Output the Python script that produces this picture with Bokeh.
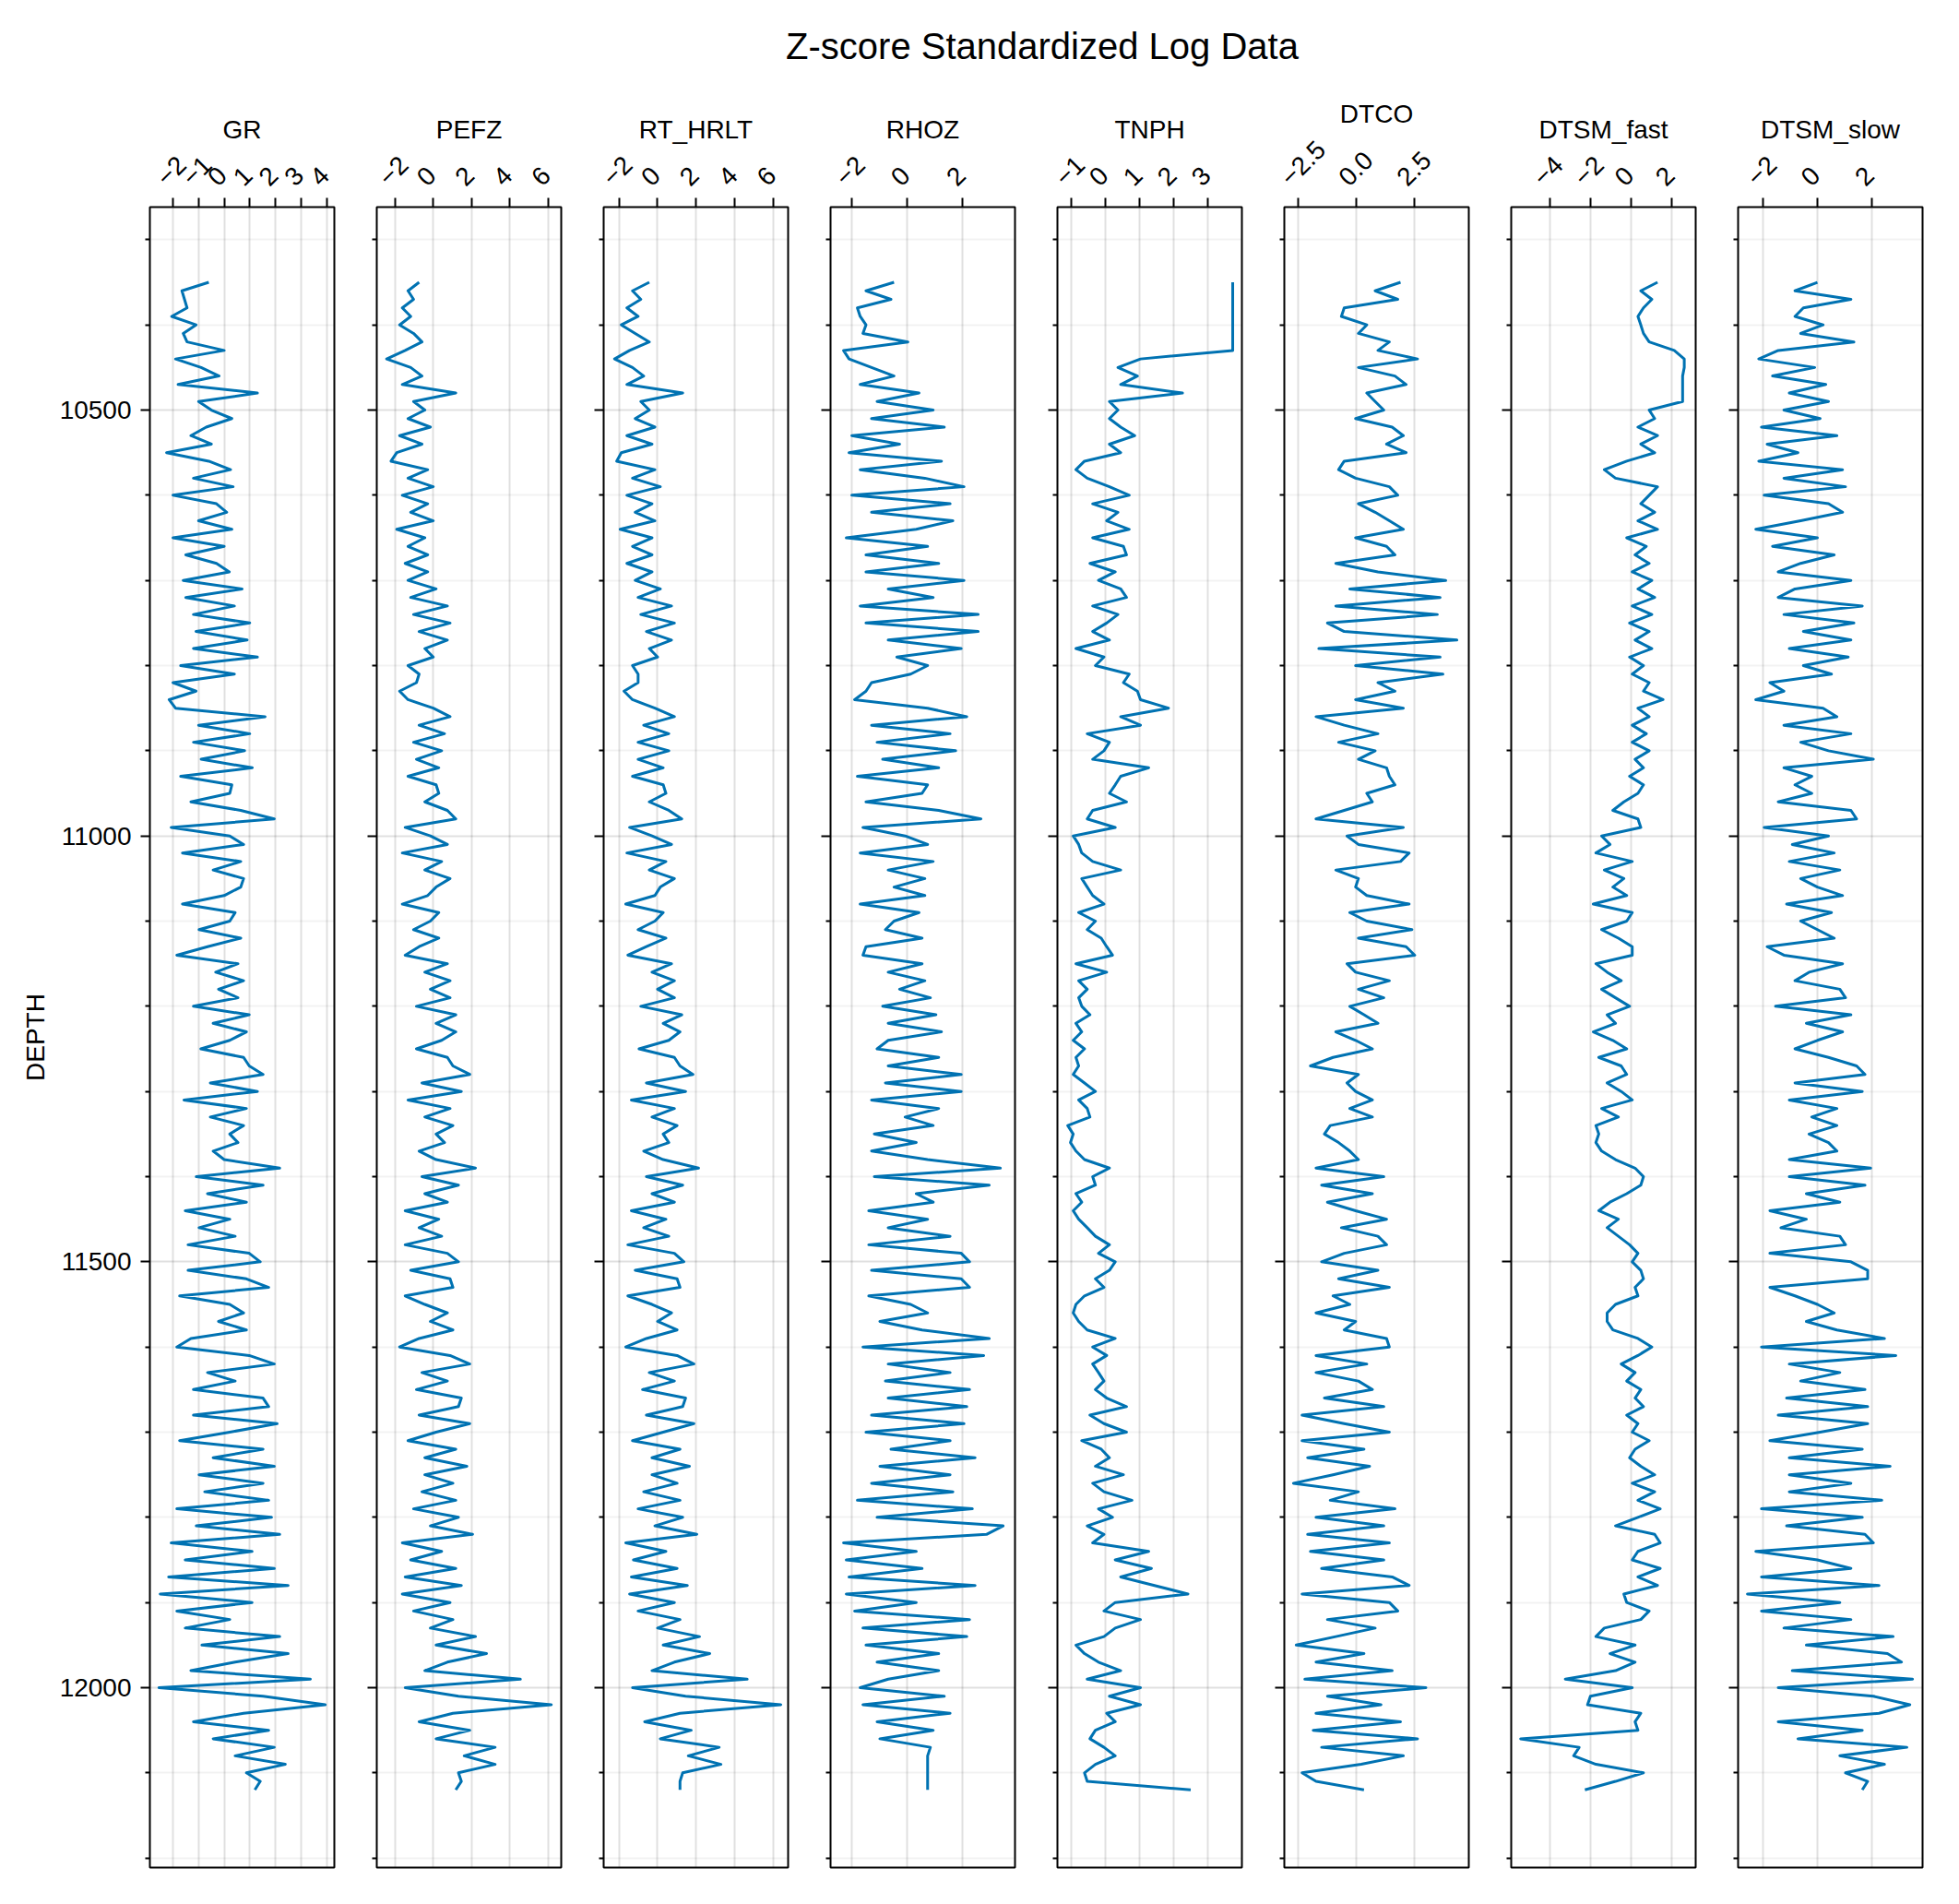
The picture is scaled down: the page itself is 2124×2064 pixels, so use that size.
from math import pi

from bokeh.plotting import figure
from bokeh.layouts import column, row
from bokeh.models import Range1d, FixedTicker, LinearAxis, Label, CustomLabelingPolicy
from bokeh.embed import file_html
from bokeh.resources import INLINE

FONT = "Liberation Sans"
LINE_COLOR = "#0072B2"

# ---------------- data (z-scores, every 10 ft) ----------------
DEPTH = list(range(10350, 12121, 10))

GR = [
    -0.6, -1.65, -1.55, -1.45, -2.05, -1.1, -1.6, -1.45, 0.0, -1.9,
    -0.9, -0.2, -1.8, 1.3, -1.0, -0.5, 0.3, -0.7, -1.3, -0.5,
    -2.25, -0.6, 0.25, -1.2, 0.35, -2.0, -0.3, 0.1, -1.0, 0.3,
    -2.0, 0.0, -1.5, -0.3, 0.2, -1.6, 0.7, -1.5, 0.4, -1.2,
    1.0, -1.1, 0.9, -1.2, 1.3, -1.7, 0.4, -2.0, -1.1, -2.15,
    -1.9, 1.6, -1.0, 1.0, -1.2, 0.8, -0.9, 1.1, -1.7, 0.3,
    0.22, -1.3, 0.65, 1.96, -2.07, 0.22, 0.76, -1.63, 0.65, -0.43,
    0.76, 0.65, 0.0, -1.63, 0.43, 0.22, -0.98, 0.65, -0.65, -1.85,
    0.54, -0.33, 0.76, -0.22, 0.54, -1.2, 0.98, -0.43, 0.87, 0.22,
    -0.91, 0.76, 0.98, 1.52, -0.54, 1.3, -1.57, 0.87, -0.54, 0.76,
    0.22, 0.54, -0.43, 0.0, 2.17, -1.09, 1.52, -0.65, 0.87, -1.52,
    0.22, -0.98, 0.43, -1.41, 0.98, 1.41, -1.41, 0.87, 1.74, -1.74,
    0.22, 0.76, -0.22, 0.87, -1.3, -1.85, 0.98, 1.96, -0.65, 0.43,
    -1.2, 1.52, 1.74, -1.2, 2.07, 0.22, -1.74, 1.52, -0.43, 1.96,
    -0.98, 1.52, -0.76, 1.74, -1.85, 1.85, -1.09, 2.17, -2.07, 1.09,
    -1.52, 1.96, -2.17, 2.5, -2.5, 1.09, -1.85, 0.22, -1.52, 2.17,
    -0.87, 2.5, 0.43, -1.3, 3.37, -2.55, 1.52, 3.95, 0.76, -1.2,
    1.74, -0.43, 1.96, 0.43, 2.39, 0.87, 1.41, 1.2,
]

PEFZ = [
    -0.74, -1.32, -1.03, -1.62, -1.18, -1.76, -1.03, -0.59, -1.47, -2.44,
    -1.18, -0.59, -1.62, 1.18, -1.03, -0.44, -1.32, -0.15, -1.76, -0.59,
    -1.91, -2.21, -0.29, -1.32, 0.0, -1.62, -0.29, -1.18, 0.0, -1.91,
    -0.44, -1.32, -0.29, -1.47, -0.29, -1.32, 0.15, -1.18, 0.74, -1.03,
    0.88, -0.74, 0.74, -0.44, 0.0, -1.32, -0.74, -0.88, -1.76, -1.32,
    0.0, 0.88, -0.74, 0.59, -1.03, 0.44, -0.88, 0.29, -1.32, 0.15,
    0.29, -0.44, 0.74, 1.18, -1.47, -0.15, 0.74, -1.62, 0.44, -0.44,
    0.88, 0.15, -0.29, -1.62, 0.29, -0.15, -1.03, 0.29, -0.74, -1.47,
    0.74, -0.44, 0.88, -0.15, 0.88, -0.88, 1.18, 0.15, 1.18, 0.44,
    -0.88, 0.74, 1.03, 1.91, -0.59, 1.47, -1.32, 0.88, -0.44, 1.03,
    0.15, 0.59, -0.74, 0.15, 2.21, -0.59, 1.32, -0.44, 0.74, -1.47,
    0.29, -0.74, 0.44, -1.47, 0.74, 1.32, -1.18, 0.88, 1.03, -1.47,
    -0.44, 0.74, -0.15, 1.03, -0.74, -1.76, 0.88, 1.91, -0.59, 0.74,
    -0.88, 1.47, 1.32, -0.74, 1.91, 0.15, -1.32, 1.18, -0.44, 1.76,
    -0.44, 1.03, -0.59, 1.18, -1.03, 1.32, -0.15, 2.06, -1.62, 0.44,
    -1.18, 1.18, -1.47, 1.47, -1.62, 0.88, -1.03, 1.03, -0.15, 2.21,
    0.15, 2.79, 0.74, -0.44, 4.56, -1.47, 1.32, 6.18, 1.03, -0.74,
    1.91, 0.15, 3.24, 1.62, 3.24, 1.32, 1.47, 1.18,
]

RT_HRLT = [
    -0.43, -1.3, -0.87, -1.59, -1.01, -1.88, -1.16, -0.43, -1.45, -2.23,
    -1.3, -0.72, -1.59, 1.3, -0.87, -0.43, -1.16, -0.14, -1.59, -0.29,
    -1.88, -2.12, -0.14, -1.3, 0.14, -1.59, -0.29, -1.16, -0.14, -1.94,
    -0.29, -1.3, -0.29, -1.59, -0.29, -1.16, 0.14, -1.01, 0.72, -0.87,
    0.87, -0.58, 0.72, -0.43, 0.0, -1.3, -1.01, -1.01, -1.74, -1.3,
    -0.14, 0.87, -0.72, 0.58, -1.01, 0.58, -1.01, 0.29, -1.3, 0.29,
    0.43, -0.43, 0.58, 1.25, -1.45, -0.29, 0.72, -1.59, 0.43, -0.43,
    0.87, 0.14, -0.14, -1.65, 0.29, -0.14, -1.01, 0.43, -0.58, -1.54,
    0.72, -0.29, 0.87, 0.0, 0.87, -0.87, 1.25, 0.29, 1.16, 0.58,
    -0.96, 0.87, 1.16, 1.83, -0.58, 1.45, -1.36, 0.87, -0.29, 1.01,
    0.29, 0.58, -0.72, 0.29, 2.12, -0.58, 1.3, -0.29, 0.87, -1.36,
    0.43, -0.72, 0.58, -1.54, 0.87, 1.36, -1.16, 1.01, 1.16, -1.54,
    -0.29, 0.72, 0.0, 1.01, -0.58, -1.65, 1.01, 1.88, -0.43, 0.87,
    -0.78, 1.45, 1.3, -0.58, 1.88, 0.29, -1.3, 1.16, -0.29, 1.65,
    -0.29, 1.01, -0.72, 1.16, -1.01, 1.3, -0.14, 2.03, -1.65, 0.43,
    -1.25, 1.01, -1.36, 1.54, -1.45, 0.87, -1.01, 1.16, 0.0, 2.17,
    0.29, 2.7, 0.87, -0.29, 4.64, -1.3, 1.45, 6.38, 1.16, -0.67,
    1.74, 0.14, 3.19, 1.59, 3.28, 1.3, 1.16, 1.16,
]

RHOZ = [
    -0.48, -1.49, -0.59, -1.8, -1.7, -1.49, -1.6, 0.02, -2.3, -2.1,
    -1.29, -0.48, -1.7, 0.42, -1.09, 0.93, -1.29, 1.33, -2.0, -0.28,
    -2.1, 1.23, -1.7, 0.63, 2.04, -2.0, 1.54, -1.29, 1.64, 0.32,
    -2.2, 0.73, -1.49, 1.13, -1.49, 2.04, -0.69, 0.93, -1.7, 2.55,
    -1.49, 2.55, -0.69, 1.94, -0.38, 0.73, 0.12, -1.29, -1.49, -1.9,
    0.73, 2.14, -1.29, 1.54, -1.09, 1.74, -0.89, 1.13, -1.8, 0.73,
    0.53, -1.49, 1.13, 2.65, -1.6, -0.08, 0.73, -1.7, 0.93, -0.69,
    0.63, -0.48, 0.63, -1.7, 0.42, -0.48, -0.79, 0.53, -1.49, -1.6,
    0.53, -0.69, 0.63, -0.28, 0.83, -0.89, 1.03, -0.69, 1.23, -0.69,
    -1.09, 1.13, -0.69, 1.94, -0.79, 1.94, -1.29, 1.13, -0.08, 0.93,
    -1.19, 0.32, -1.29, 0.73, 3.35, -1.19, 2.95, 0.32, 0.93, -1.39,
    0.73, -0.69, 1.54, -1.39, 1.94, 2.24, -1.29, 1.94, 2.24, -1.39,
    0.12, 0.73, -0.99, 0.53, 2.95, -1.6, 2.75, -0.69, 1.54, -0.79,
    2.24, -0.69, 2.14, -1.29, 2.04, -1.49, 1.54, -0.59, 2.44, -0.99,
    1.54, -1.29, 1.64, -1.8, 2.34, -1.09, 3.45, 2.85, -2.3, 0.32,
    -2.2, 0.53, -2.1, 2.44, -2.2, 0.32, -1.9, 2.24, -1.6, 2.14,
    -1.49, 1.13, -1.09, 1.13, -0.69, -1.7, 1.33, -1.6, 1.54, -1.09,
    0.93, -0.99, 0.83, 0.73, 0.73, 0.73, 0.73, 0.73,
]

TNPH = [
    3.72, 3.72, 3.72, 3.72, 3.72, 3.72, 3.72, 3.72, 3.72, 1.02,
    0.36, 0.93, 0.44, 2.25, 0.11, 0.36, 0.11, 0.44, 0.85, 0.11,
    0.44, -0.62, -0.87, -0.54, 0.11, 0.69, -0.38, 0.36, 0.03, 0.69,
    -0.38, 0.52, 0.61, -0.46, 0.28, -0.21, 0.44, 0.61, -0.38, 0.36,
    0.03, -0.38, 0.11, -0.87, -0.05, -0.3, 0.69, 0.52, 0.93, 1.02,
    1.84, 0.44, 1.02, -0.54, 0.11, -0.05, -0.38, 1.26, 0.44, 0.28,
    0.11, 0.61, -0.38, -0.54, 0.28, -0.95, -0.79, -0.7, -0.38, 0.44,
    -0.7, -0.54, -0.38, -0.05, -0.79, -0.3, -0.54, -0.13, 0.03, 0.2,
    -0.87, 0.03, -0.79, -0.54, -0.79, -0.7, -0.46, -0.87, -0.7, -0.95,
    -0.62, -0.87, -0.79, -0.95, -0.62, -0.3, -0.79, -0.54, -0.46, -1.11,
    -0.95, -1.03, -0.87, -0.62, 0.11, -0.38, -0.3, -0.87, -0.7, -0.95,
    -0.79, -0.54, -0.3, 0.11, -0.21, 0.28, 0.11, -0.3, -0.05, -0.62,
    -0.87, -0.95, -0.79, -0.54, 0.28, -0.38, 0.03, -0.38, -0.21, -0.05,
    -0.3, 0.03, 0.61, -0.46, -0.05, 0.61, -0.7, -0.13, 0.11, -0.3,
    0.52, -0.38, -0.05, 0.77, -0.21, 0.2, -0.54, -0.05, -0.38, 1.26,
    0.28, 1.34, 0.44, 1.43, 2.41, 0.28, -0.05, 1.02, 0.28, -0.05,
    -0.87, -0.62, -0.21, 0.44, -0.54, 1.02, 0.11, 1.02, 0.03, 0.28,
    -0.3, -0.46, -0.05, 0.28, -0.3, -0.62, -0.54, 2.49,
]

DTCO = [
    1.91, 0.82, 1.79, -0.51, -0.63, 0.46, 0.1, 1.43, 0.94, 2.64,
    0.1, 1.67, 2.15, 0.46, 0.82, 1.19, -0.02, 1.55, 2.03, 1.31,
    2.15, -0.51, -0.75, -0.02, 1.43, 1.79, 0.1, 0.82, 1.43, 2.03,
    -0.02, 1.31, 1.67, -0.87, 0.94, 3.85, -0.27, 3.61, -0.87, 3.49,
    -1.23, -0.51, 4.33, -1.6, 3.61, -0.02, 3.73, 0.94, 1.67, -0.02,
    2.03, -1.72, -0.51, 0.94, -0.75, 0.82, 0.1, 1.31, 1.43, 1.67,
    0.46, 0.7, -0.51, -1.72, 2.03, -0.39, 0.1, 2.28, 1.91, -0.87,
    0.1, -0.02, 0.46, 2.28, -0.27, 0.46, 2.4, 0.1, 2.15, 2.52,
    -0.39, -0.02, 1.43, 0.1, 1.19, -0.27, 0.34, 0.94, -0.87, -0.02,
    0.7, -0.99, -1.96, 0.1, -0.39, -0.02, 0.7, -0.27, 0.7, -1.11,
    -1.36, -0.75, -0.27, 0.1, -1.72, 1.19, -1.48, 0.7, -1.23, -0.02,
    1.31, -0.63, 0.94, 1.31, -0.51, -1.48, 0.94, -0.75, 1.43, -0.99,
    -0.27, -1.72, -0.02, -0.51, 1.31, 1.43, -1.72, 0.46, -1.72, 0.1,
    0.7, -1.36, 1.19, -2.32, -0.51, 1.43, -2.32, 0.34, -2.08, 0.58,
    -0.99, -2.69, 0.1, -1.11, 1.67, -1.72, 1.19, -2.08, 1.43, -1.96,
    1.19, -1.48, 1.55, 2.28, -2.32, 1.43, 1.79, -1.23, 0.82, -0.87,
    -2.57, 0.34, -1.72, 1.55, -2.2, 3.0, -1.23, 1.07, -1.72, 1.91,
    -1.84, 2.64, -1.48, 2.03, 0.22, -2.32, -1.72, 0.34,
]

DTSM_FAST = [
    1.29, 0.47, 1.01, 0.6, 0.33, 0.47, 0.6, 0.88, 2.11, 2.6,
    2.6, 2.52, 2.52, 2.52, 2.52, 0.88, 1.15, 0.33, 1.29, 0.47,
    1.15, -0.22, -1.32, -0.77, 1.29, 0.88, 0.47, 1.15, 0.33, 1.29,
    -0.22, 0.74, 0.19, 0.88, 0.05, 1.01, 0.33, 1.15, 0.05, 1.01,
    -0.08, 0.88, 0.19, 1.01, -0.08, 0.6, 0.05, 0.88, 0.6, 1.56,
    0.33, 0.88, 0.05, 0.74, 0.05, 0.88, 0.19, 0.6, -0.08, 0.6,
    0.33, -0.36, -0.9, 0.33, 0.47, -1.45, -1.04, -1.73, 0.05, -1.32,
    -0.36, -0.9, -0.22, -1.86, 0.05, -0.22, -1.45, -0.63, 0.05, 0.05,
    -1.73, -1.18, -0.49, -1.45, -0.77, -0.08, -1.18, -0.77, -1.86, -0.9,
    -0.22, -1.59, -0.49, -0.22, -1.18, -0.49, 0.05, -1.45, -0.63, -1.73,
    -1.59, -1.73, -1.45, -0.77, 0.19, 0.6, 0.47, -0.22, -1.04, -1.59,
    -0.63, -1.18, -0.63, -0.08, 0.33, 0.05, 0.47, 0.6, 0.19, 0.33,
    -0.77, -1.18, -1.18, -0.9, 0.33, 1.01, 0.33, -0.49, 0.19, -0.22,
    0.47, 0.19, 0.6, -0.22, 0.33, 0.05, 0.88, 0.19, -0.08, 0.47,
    1.15, 0.05, 1.15, 0.33, 1.42, 0.33, -0.77, 1.15, 1.42, 0.33,
    0.05, 1.42, 0.33, 1.29, -0.36, -0.22, 0.88, 0.47, -1.32, -1.73,
    0.19, -1.04, 0.19, -0.77, -3.23, 0.05, -2.0, -2.14, 0.47, 0.19,
    0.33, -5.42, -2.55, -2.82, -1.73, 0.6, -0.77, -2.27,
]

DTSM_SLOW = [
    0.0, -0.83, 1.24, -0.52, -0.83, 0.21, -0.62, 1.35, -1.45, -2.17,
    -0.1, -1.66, 0.31, -1.04, 0.41, -1.24, 0.1, -2.07, 0.72, -1.86,
    -0.72, -2.17, 0.93, -1.24, 1.04, -1.97, 0.41, 0.93, -0.62, -2.28,
    0.0, -1.66, 0.62, -0.62, -1.45, 1.24, -0.83, -1.45, 1.66, -1.24,
    1.35, -0.52, 1.24, -1.04, 1.14, -0.52, 0.52, -1.76, -1.24, -2.28,
    0.21, 0.72, -1.24, 1.24, -0.62, 0.41, 2.07, -1.24, -0.21, -0.83,
    -0.21, -1.45, 1.24, 1.45, -1.97, 0.41, -0.93, 0.62, -1.04, 0.83,
    -0.62, 0.0, 0.93, -1.14, 0.52, -0.62, 0.0, 0.62, -1.86, -1.24,
    0.93, -0.31, -0.83, 0.83, 1.04, -1.55, 1.24, -0.41, 0.93, 0.0,
    -0.83, 0.41, 1.45, 1.76, -0.83, 1.66, -1.04, 0.72, -0.21, 0.72,
    -0.31, 0.41, 0.72, -1.04, 1.97, -1.04, 1.76, -0.41, 0.83, -1.76,
    -0.41, -1.35, 0.83, 1.04, -1.76, 1.24, 1.86, 1.86, -1.76, -0.83,
    0.0, 0.62, -0.41, 0.72, 2.48, -2.07, 2.9, -1.04, 0.83, -0.62,
    1.76, -1.14, 1.86, -1.45, 1.86, 0.1, -1.76, 1.66, -1.04, 2.69,
    -1.04, 1.24, -1.04, 2.38, -2.07, 1.66, -1.14, 1.76, 2.07, -2.28,
    0.0, 1.24, -2.07, 2.28, -2.59, 0.83, -2.07, 1.24, -1.24, 2.8,
    -0.41, 2.59, 3.11, -0.93, 3.52, -1.45, 2.07, 3.42, 2.28, -1.45,
    1.66, -0.72, 3.31, 0.83, 2.48, 1.04, 1.86, 1.66,
]

# ---------------- axes: ticks and labels ----------------
GR_TICKS = [-2, -1, 0, 1, 2, 3, 4]
GR_LABELS = ["\u22122", "\u22121", "0", "1", "2", "3", "4"]
PEFZ_TICKS = [-2, 0, 2, 4, 6]
PEFZ_LABELS = ["\u22122", "0", "2", "4", "6"]
RT_TICKS = [-2, 0, 2, 4, 6]
RT_LABELS = ["\u22122", "0", "2", "4", "6"]
RHOZ_TICKS = [-2, 0, 2]
RHOZ_LABELS = ["\u22122", "0", "2"]
TNPH_TICKS = [-1, 0, 1, 2, 3]
TNPH_LABELS = ["\u22121", "0", "1", "2", "3"]
DTCO_TICKS = [-2.5, 0.0, 2.5]
DTCO_LABELS = ["\u22122.5", "0.0", "2.5"]
DTSMF_TICKS = [-4, -2, 0, 2]
DTSMF_LABELS = ["\u22124", "\u22122", "0", "2"]
DTSMS_TICKS = [-2, 0, 2]
DTSMS_LABELS = ["\u22122", "0", "2"]

DEPTH_MAJOR = [10500, 11000, 11500, 12000]
DEPTH_MAJOR_LABELS = ["10500", "11000", "11500", "12000"]
DEPTH_MINOR = [d for d in range(10300, 12201, 100) if d not in DEPTH_MAJOR]

TRACKS = [
    ("GR", GR, GR_TICKS, GR_LABELS, (-2.903, 4.306), 13),
    ("PEFZ", PEFZ, PEFZ_TICKS, PEFZ_LABELS, (-2.957, 6.70), 13),
    ("RT_HRLT", RT_HRLT, RT_TICKS, RT_LABELS, (-2.795, 6.761), 13),
    ("RHOZ", RHOZ, RHOZ_TICKS, RHOZ_LABELS, (-2.767, 3.878), 13),
    ("TNPH", TNPH, TNPH_TICKS, TNPH_LABELS, (-1.412, 3.989), 13),
    ("DTCO", DTCO, DTCO_TICKS, DTCO_LABELS, (-3.082, 4.842), 14),
    ("DTSM_fast", DTSM_FAST, DTSMF_TICKS, DTSMF_LABELS, (-5.882, 3.16), 13),
    ("DTSM_slow", DTSM_SLOW, DTSMS_TICKS, DTSMS_LABELS, (-2.935, 3.891), 13),
]

# a labeling policy that shows no labels (tick marks only)
NO_LABELS = "for (const i of indices) { indices.unset(i) }\nreturn indices"

# ---------------- layout ----------------
FW, FH = 200, 1800
TITLE_H = 90
TOP = 224 - TITLE_H
FIRST_LEFT = 162
GAP_LEFT = 44
RIGHT = 2
TOTAL_W = FIRST_LEFT + FW + RIGHT + 7 * (GAP_LEFT + FW + RIGHT)

y_range = Range1d(start=12211.2, end=10261.7)

figs = []
for i, (name, vals, ticks, labels, (lo, hi), shift_px) in enumerate(TRACKS):
    first = i == 0
    p = figure(
        frame_width=FW, frame_height=FH,
        x_range=Range1d(lo, hi), y_range=y_range,
        x_axis_location="above", y_axis_location="left",
        toolbar_location=None, tools="", output_backend="svg",
        min_border_left=FIRST_LEFT if first else GAP_LEFT,
        min_border_right=RIGHT, min_border_top=TOP, min_border_bottom=12,
        background_fill_color="white", border_fill_color="white",
    )
    p.outline_line_color = "black"
    p.outline_line_width = 2
    p.outline_line_alpha = 1.0

    p.title.text = name
    p.title.align = "center"
    p.title.text_font = FONT
    p.title.text_font_size = "28px"
    p.title.text_font_style = "normal"
    p.title.text_color = "black"
    p.title.standoff = 3

    # tick-only axis on top
    xa = p.xaxis[0]
    xa.ticker = FixedTicker(ticks=ticks)
    xa.major_label_policy = CustomLabelingPolicy(code=NO_LABELS)
    xa.major_label_text_font_size = "0px"
    xa.major_label_standoff = 0
    xa.major_tick_out = 10
    xa.major_tick_in = 0
    xa.major_tick_line_width = 2
    xa.major_tick_line_color = "black"
    xa.minor_tick_out = 0
    xa.minor_tick_in = 0
    xa.axis_line_color = None

    # rotated tick labels, offset slightly so they sit centred over their ticks
    d = shift_px * (hi - lo) / FW
    p.extra_x_ranges = {"lab": Range1d(lo + d, hi + d)}
    la = LinearAxis(
        x_range_name="lab",
        ticker=FixedTicker(ticks=ticks),
        major_label_overrides={t: s for t, s in zip(ticks, labels)},
        major_label_orientation=pi / 4,
        major_label_text_font=FONT,
        major_label_text_font_size="28px",
        major_label_text_color="black",
        major_label_standoff=18,
        major_tick_out=0, major_tick_in=0,
        minor_tick_out=0, minor_tick_in=0,
        axis_line_color=None,
    )
    p.add_layout(la, "above")

    # depth axis
    ya = p.yaxis[0]
    ya.ticker = FixedTicker(ticks=DEPTH_MAJOR, minor_ticks=DEPTH_MINOR)
    ya.major_tick_out = 10
    ya.major_tick_in = 0
    ya.minor_tick_out = 5
    ya.minor_tick_in = 0
    ya.major_tick_line_width = 2
    ya.minor_tick_line_width = 2
    ya.major_tick_line_color = "black"
    ya.minor_tick_line_color = "black"
    ya.axis_line_color = None
    if first:
        ya.major_label_overrides = {t: s for t, s in zip(DEPTH_MAJOR, DEPTH_MAJOR_LABELS)}
        ya.major_label_text_font = FONT
        ya.major_label_text_font_size = "28px"
        ya.major_label_text_color = "black"
        ya.major_label_standoff = 10
        ya.axis_label = "DEPTH"
        ya.axis_label_text_font = FONT
        ya.axis_label_text_font_size = "28px"
        ya.axis_label_text_font_style = "normal"
        ya.axis_label_text_color = "black"
        ya.axis_label_standoff = 8
    else:
        ya.major_label_policy = CustomLabelingPolicy(code=NO_LABELS)
        ya.major_label_text_font_size = "0px"
        ya.major_label_standoff = 0

    # grids
    p.xgrid.ticker = FixedTicker(ticks=ticks)
    p.xgrid.grid_line_color = "black"
    p.xgrid.grid_line_alpha = 0.12
    p.xgrid.grid_line_width = 2
    p.ygrid.ticker = FixedTicker(ticks=DEPTH_MAJOR, minor_ticks=DEPTH_MINOR)
    p.ygrid.grid_line_color = "black"
    p.ygrid.grid_line_alpha = 0.12
    p.ygrid.grid_line_width = 2
    p.ygrid.minor_grid_line_color = "black"
    p.ygrid.minor_grid_line_alpha = 0.05
    p.ygrid.minor_grid_line_width = 2

    p.line(x=vals, y=DEPTH, line_color=LINE_COLOR, line_width=3, line_join="round")
    figs.append(p)

# main title
tf = figure(
    width=TOTAL_W, height=TITLE_H,
    x_range=Range1d(0, 1), y_range=Range1d(0, 1),
    x_axis_location=None, y_axis_location=None,
    toolbar_location=None, tools="", output_backend="svg",
    min_border=0, background_fill_color="white", border_fill_color="white",
)
tf.grid.visible = False
tf.outline_line_color = None
tf.add_layout(Label(
    x=1129.5, y=TITLE_H - 49, x_units="screen", y_units="screen",
    text="Z-score Standardized Log Data",
    text_font=FONT, text_font_size="40px", text_color="black",
    text_align="center", text_baseline="middle",
))

layout = column(tf, row(*figs))
open("out.html", "w").write(file_html(layout, INLINE))
